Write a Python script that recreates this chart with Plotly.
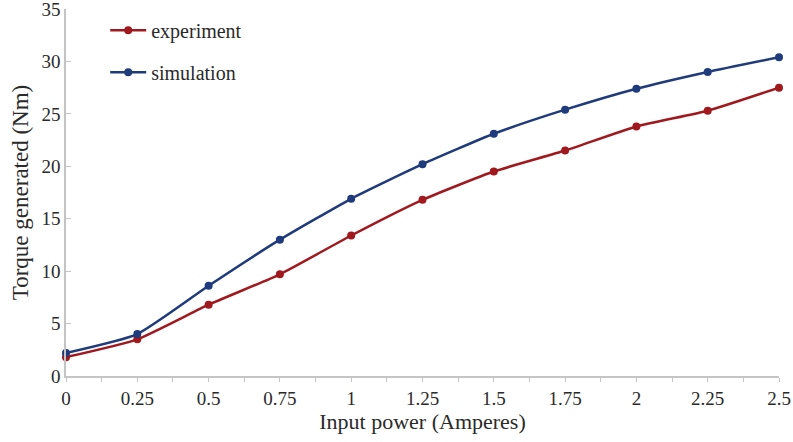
import plotly.graph_objects as go

x_vals = [0, 0.25, 0.5, 0.75, 1, 1.25, 1.5, 1.75, 2, 2.25, 2.5]
experiment = [1.8, 3.5, 6.8, 9.7, 13.4, 16.8, 19.5, 21.5, 23.8, 25.3, 27.5]
simulation = [2.2, 4.0, 8.6, 13.0, 16.9, 20.2, 23.1, 25.4, 27.4, 29.0, 30.4]
x_ticks = [0, 0.25, 0.5, 0.75, 1, 1.25, 1.5, 1.75, 2, 2.25, 2.5]
x_tick_text = ["0", "0.25", "0.5", "0.75", "1", "1.25", "1.5", "1.75", "2", "2.25", "2.5"]
y_ticks = [0, 5, 10, 15, 20, 25, 30, 35]

red = "#A0191E"
blue = "#1F3B7C"
font = "Liberation Serif"
txt = "#2a2a2a"

fig = go.Figure()
fig.add_trace(go.Scatter(x=x_vals, y=experiment, name="experiment", mode="lines+markers", legendgroup="e",
                         line=dict(color=red, width=2.5, shape="spline", smoothing=0.5),
                         marker=dict(size=8, color=red), cliponaxis=False))
fig.add_trace(go.Scatter(x=x_vals, y=simulation, name="simulation", mode="lines+markers", legendgroup="s",
                         line=dict(color=blue, width=2.5, shape="spline", smoothing=0.5),
                         marker=dict(size=8, color=blue), cliponaxis=False))

fig.update_layout(
    width=793, height=442,
    margin=dict(l=66, r=14, t=9, b=66),
    paper_bgcolor="white", plot_bgcolor="white",
    font=dict(family=font, size=18, color=txt),
    showlegend=True,
    legend=dict(x=0.055, y=0.995, xanchor="left", yanchor="top", bgcolor="rgba(0,0,0,0)",
                font=dict(family=font, size=20, color=txt), itemwidth=36, tracegroupgap=13),
    xaxis=dict(range=[0, 2.5], tickvals=x_ticks, ticktext=x_tick_text, showgrid=False, zeroline=False,
               automargin=False, ticklabeloverflow="allow",
               showline=True, linecolor="#C4C4C4", linewidth=1.5, ticks="outside", ticklen=4,
               tickcolor="#C4C4C4", minor=dict(dtick=0.125, tick0=0, ticks="outside", ticklen=4, tickcolor="#C4C4C4"),
               title=dict(text="Input power (Amperes)", font=dict(family=font, size=22, color=txt), standoff=4),
               tickfont=dict(family=font, size=19, color=txt)),
    yaxis=dict(range=[0, 35], tickvals=y_ticks, showgrid=False, zeroline=False,
               automargin=False, ticklabeloverflow="allow",
               showline=True, linecolor="#C4C4C4", linewidth=1.5, ticks="inside", ticklen=5,
               tickcolor="#C4C4C4",
               title=dict(text="Torque generated (Nm)", font=dict(family=font, size=23, color=txt), standoff=6),
               tickfont=dict(family=font, size=19, color=txt)),
)

fig.write_html("out.html", config={"displayModeBar": False},
               post_script="document.body.style.margin='0';")
